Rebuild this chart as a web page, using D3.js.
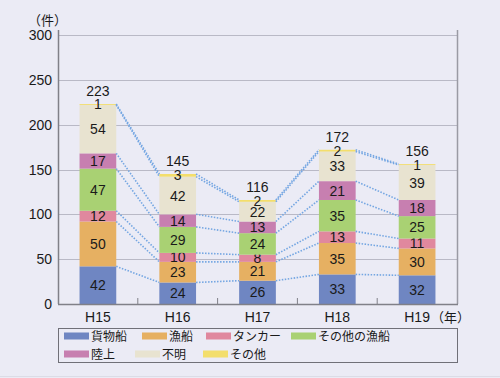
<!DOCTYPE html>
<html>
<head>
<meta charset="utf-8">
<script src="https://cdn.jsdelivr.net/npm/d3@7"></script>
<style>
  body { margin: 0; background: #ebebf5; }
  svg { display: block; font-family: "Liberation Sans", Arial, "Noto Sans CJK JP", sans-serif; }
</style>
</head>
<body>
<svg width="500" height="378"></svg>
<script>
let svg = d3.select("svg");

// data
let years = ["H15", "H16", "H17", "H18", "H19"];
let series_names = ["貨物船", "漁船", "タンカー", "その他の漁船", "陸上", "不明", "その他"];
let cargo = [42, 24, 26, 33, 32];
let fishing = [50, 23, 21, 35, 30];
let tanker = [12, 10, 8, 13, 11];
let other_fishing = [47, 29, 24, 35, 25];
let land = [17, 14, 13, 21, 18];
let unknown = [54, 42, 22, 33, 39];
let other = [1, 3, 2, 2, 1];
let y_ticks = [0, 50, 100, 150, 200, 250, 300];

let colors = ["#6f86c2", "#e6b062", "#e0889e", "#a9d173", "#c77fb0", "#e8e3d0", "#f3de6c"];
let all_series = [cargo, fishing, tanker, other_fishing, land, unknown, other];

let rows = years.map((y, i) => {
  let row = { year: y };
  series_names.forEach((s, j) => row[s] = all_series[j][i]);
  return row;
});
let stacked = d3.stack().keys(series_names)(rows);

let plot_left = 58, plot_right = 457;
let plot_top = 35, plot_bottom = 304;

let x_scale = d3.scaleBand()
  .domain(years)
  .range([plot_left, plot_right])
  .paddingInner(0.54)
  .paddingOuter(0.27);
let y_scale = d3.scaleLinear()
  .domain([0, 300])
  .range([plot_bottom, plot_top]);

// gridlines
svg.append("g")
  .selectAll("line")
  .data(y_ticks.slice(1))
  .enter().append("line")
    .attr("x1", plot_left)
    .attr("x2", plot_right)
    .attr("y1", (d) => Math.round(y_scale(d)) + 0.5)
    .attr("y2", (d) => Math.round(y_scale(d)) + 0.5)
    .attr("stroke", "#b9b9c6")
    .attr("stroke-width", 1);

// y tick labels
svg.append("g")
  .selectAll("text")
  .data(y_ticks)
  .enter().append("text")
    .attr("x", 52)
    .attr("y", (d) => y_scale(d) + 5)
    .attr("text-anchor", "end")
    .style("font-size", "14px")
    .attr("fill", "#1a1a1a")
    .text((d) => d);

svg.append("text")
  .attr("x", 28)
  .attr("y", 25)
  .style("font-size", "13px")
  .attr("fill", "#1a1a1a")
  .text("（件）");

// bars
let layers = svg.append("g").selectAll("g")
  .data(stacked)
  .enter().append("g")
    .attr("fill", (d, i) => colors[i]);

layers.selectAll("rect")
  .data((d) => d)
  .enter().append("rect")
    .attr("x", (d) => x_scale(d.data.year))
    .attr("width", x_scale.bandwidth())
    .attr("y", (d) => y_scale(d[1]))
    .attr("height", (d) => y_scale(d[0]) - y_scale(d[1]));

// dotted connectors between bars
let links = [];
stacked.forEach((layer) => {
  for (let i = 0; i < layer.length - 1; i++) {
    links.push({ a: layer[i], b: layer[i + 1] });
  }
});
svg.append("g")
  .selectAll("line")
  .data(links)
  .enter().append("line")
    .attr("x1", (d) => x_scale(d.a.data.year) + x_scale.bandwidth())
    .attr("y1", (d) => y_scale(d.a[1]))
    .attr("x2", (d) => x_scale(d.b.data.year))
    .attr("y2", (d) => y_scale(d.b[1]))
    .attr("stroke", "#74a6e2")
    .attr("stroke-width", 1.6)
    .attr("stroke-dasharray", "1.5,1.5");

// segment labels
layers.selectAll("text")
  .data((d) => d)
  .enter().append("text")
    .attr("x", (d) => x_scale(d.data.year) + x_scale.bandwidth() / 2)
    .attr("y", (d) => (y_scale(d[0]) + y_scale(d[1])) / 2 + 5)
    .attr("text-anchor", "middle")
    .attr("fill", "#1a1a1a")
    .style("font-size", "14px")
    .text((d) => d[1] - d[0]);

// totals
svg.append("g")
  .selectAll("text")
  .data(rows)
  .enter().append("text")
    .attr("x", (d) => x_scale(d.year) + x_scale.bandwidth() / 2)
    .attr("y", (d) => y_scale(d3.sum(series_names, (s) => d[s])) - 8)
    .attr("text-anchor", "middle")
    .attr("fill", "#1a1a1a")
    .style("font-size", "14px")
    .text((d) => d3.sum(series_names, (s) => d[s]));

// axes frame
svg.append("line")
  .attr("x1", plot_left + 0.5).attr("x2", plot_left + 0.5)
  .attr("y1", plot_top - 5).attr("y2", plot_bottom)
  .attr("stroke", "#808088").attr("stroke-width", 1.5);
svg.append("line")
  .attr("x1", plot_right + 0.5).attr("x2", plot_right + 0.5)
  .attr("y1", plot_top - 5).attr("y2", plot_bottom)
  .attr("stroke", "#9a9aa4").attr("stroke-width", 1.5);
svg.append("line")
  .attr("x1", plot_left).attr("x2", plot_right + 1)
  .attr("y1", plot_bottom + 0.5).attr("y2", plot_bottom + 0.5)
  .attr("stroke", "#808088").attr("stroke-width", 1.5);

// x tick marks between categories
let step = x_scale.step();
svg.append("g")
  .selectAll("line")
  .data(years.slice(1))
  .enter().append("line")
    .attr("x1", (d) => x_scale(d) - x_scale.paddingInner() * step / 2)
    .attr("x2", (d) => x_scale(d) - x_scale.paddingInner() * step / 2)
    .attr("y1", plot_bottom - 6)
    .attr("y2", plot_bottom)
    .attr("stroke", "#808088");

// x labels
svg.append("g")
  .selectAll("text")
  .data(years)
  .enter().append("text")
    .attr("x", (d) => x_scale(d) + x_scale.bandwidth() / 2)
    .attr("y", 322)
    .attr("text-anchor", "middle")
    .attr("fill", "#1a1a1a")
    .style("font-size", "14px")
    .text((d) => d);
svg.append("text")
  .attr("x", 431)
  .attr("y", 322)
  .style("font-size", "13px")
  .attr("fill", "#1a1a1a")
  .text("（年）");

// legend
let legend_pos = [[64, 336], [142, 336], [206, 336], [291, 336], [64, 354], [135, 354], [203, 354]];
svg.append("rect")
  .attr("x", plot_left + 0.5).attr("y", 328.5)
  .attr("width", plot_right - plot_left).attr("height", 34)
  .attr("fill", "none")
  .attr("stroke", "#707078");
let legend = svg.append("g")
  .selectAll("g")
  .data(series_names)
  .enter().append("g")
    .attr("transform", (d, i) => "translate(" + legend_pos[i][0] + "," + legend_pos[i][1] + ")");
legend.append("rect")
  .attr("y", -3.5)
  .attr("width", 25)
  .attr("height", 7)
  .attr("fill", (d, i) => colors[i]);
legend.append("text")
  .attr("x", 27)
  .attr("y", 4.5)
  .style("font-size", "12px")
  .style("font-family", "'Noto Sans CJK JP', sans-serif")
  .attr("fill", "#1a1a1a")
  .text((d) => d);

svg.append("line")
  .attr("x1", 0).attr("x2", 500)
  .attr("y1", 376.5).attr("y2", 376.5)
  .attr("stroke", "#dcdce6");
</script>
</body>
</html>
